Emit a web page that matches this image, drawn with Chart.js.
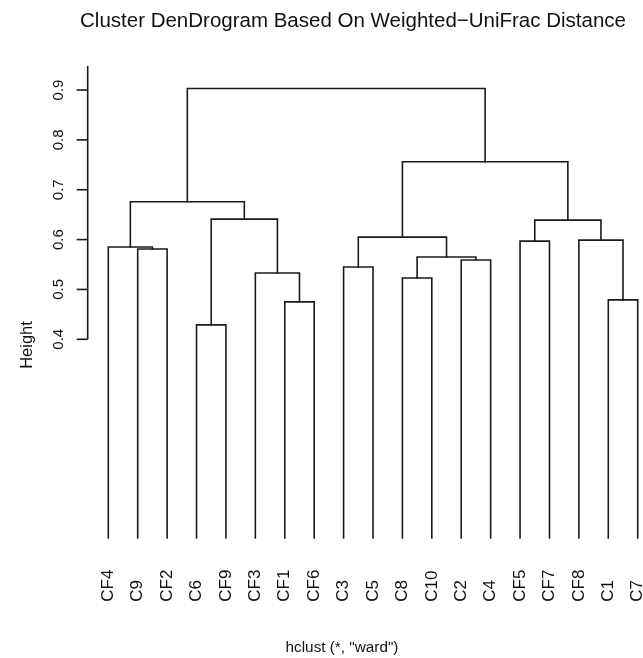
<!DOCTYPE html>
<html><head><meta charset="utf-8">
<script src="https://cdn.jsdelivr.net/npm/chart.js@4/dist/chart.umd.min.js"></script>
<style>html,body{margin:0;padding:0;background:#fff;} #wrap{position:relative;width:643px;height:658px;}</style>
</head><body><div id="wrap"><canvas id="c" width="643" height="658"></canvas></div>
<script>
// Leaf order as drawn (left to right)
const leafLabels = ['CF4','C9','CF2','C6','CF9','CF3','CF1','CF6','C3','C5','C8','C10','C2','C4','CF5','CF7','CF8','C1','C7'];
// Merge steps: leaf name (string) or earlier step number (1-based)
const mergeA = ['C9','CF4','C6','CF1','CF3',3,2,'C3','C8','C2',9,8,'CF5','C1','CF8',13,12,7];
const mergeB = ['CF2',1,'CF9','CF6',4,5,6,'C5','C10','C4',10,11,'CF7','C7',14,15,16,17];
const mergeHeight = [0.581,0.585,0.429,0.475,0.533,0.641,0.676,0.545,0.523,0.559,0.565,0.605,0.597,0.479,0.599,0.639,0.756,0.903];
const yTicks = [0.4,0.5,0.6,0.7,0.8,0.9];
const leafHeight = 0;

const titleText = 'Cluster DenDrogram Based On Weighted\u2212UniFrac Distance';
const yTitle = 'Height';
const xTitle = 'hclust (*, "ward")';

const LINE = '#1a1a1a';
const FONT = '"Liberation Sans", Arial, sans-serif';

// build node positions
const nodeX = [], nodeH = [];
function pos(ref){
  if (typeof ref === 'string') return {x: leafLabels.indexOf(ref), h: leafHeight};
  return {x: nodeX[ref-1], h: nodeH[ref-1]};
}
const datasets = [];
for (let i = 0; i < mergeHeight.length; i++){
  const a = pos(mergeA[i]), b = pos(mergeB[i]), h = mergeHeight[i];
  nodeX.push((a.x + b.x)/2); nodeH.push(h);
  datasets.push({
    data: [{x:a.x,y:a.h},{x:a.x,y:h},{x:b.x,y:h},{x:b.x,y:b.h}],
    borderColor: LINE, borderWidth: 1.6, pointRadius: 0, fill: false, tension: 0,
    borderJoinStyle: 'miter', borderCapStyle: 'square'
  });
}

const decor = {
  id: 'decor',
  afterDraw(chart){
    const ctx = chart.ctx, xs = chart.scales.x, ys = chart.scales.y, ca = chart.chartArea;
    ctx.save();
    ctx.fillStyle = '#111';
    ctx.strokeStyle = LINE;
    ctx.lineWidth = 1.6;
    // y axis line
    const ax = ca.left;
    ctx.beginPath();
    ctx.moveTo(ax, ca.top + 1);
    ctx.lineTo(ax, ys.getPixelForValue(yTicks[0]));
    ctx.stroke();
    // ticks + labels
    ctx.font = '15px ' + FONT;
    ctx.textAlign = 'center';
    ctx.textBaseline = 'middle';
    yTicks.forEach(t => {
      const py = ys.getPixelForValue(t);
      ctx.beginPath();
      ctx.moveTo(ax - 11, py); ctx.lineTo(ax, py); ctx.stroke();
      ctx.save();
      ctx.translate(ax - 29, py);
      ctx.rotate(-Math.PI/2);
      ctx.fillText(t.toFixed(1), 0, 0);
      ctx.restore();
    });
    // leaf labels
    ctx.font = '17px ' + FONT;
    ctx.textAlign = 'left';
    const y0 = ys.getPixelForValue(leafHeight) + 63;
    leafLabels.forEach((lab, i) => {
      const px = xs.getPixelForValue(i);
      ctx.save();
      ctx.translate(px, y0);
      ctx.rotate(-Math.PI/2);
      ctx.fillText(lab, 0, 0);
      ctx.restore();
    });
    // titles
    ctx.textAlign = 'center';
    ctx.textBaseline = 'alphabetic';
    ctx.font = '20.5px ' + FONT;
    ctx.fillText(titleText, 353, 26.5);
    ctx.font = '15.3px ' + FONT;
    ctx.fillText(xTitle, 342, 652);
    ctx.save();
    ctx.translate(27, 345);
    ctx.rotate(-Math.PI/2);
    ctx.font = '16.5px ' + FONT;
    ctx.textBaseline = 'middle';
    ctx.fillText(yTitle, 0, 0);
    ctx.restore();
    ctx.restore();
  }
};

new Chart(document.getElementById('c'), {
  type: 'line',
  data: { datasets },
  options: {
    responsive: false, animation: false, events: [],
    layout: { padding: { left: 87.7, right: 0, top: 65.1, bottom: 119.3 } },
    scales: {
      x: { type: 'linear', min: -0.70, max: 18.18, display: false },
      y: { type: 'linear', min: 0, max: 0.95, display: false }
    },
    plugins: { legend: { display: false }, tooltip: { enabled: false }, title: { display: false } }
  },
  plugins: [decor]
});
</script>
</body></html>
